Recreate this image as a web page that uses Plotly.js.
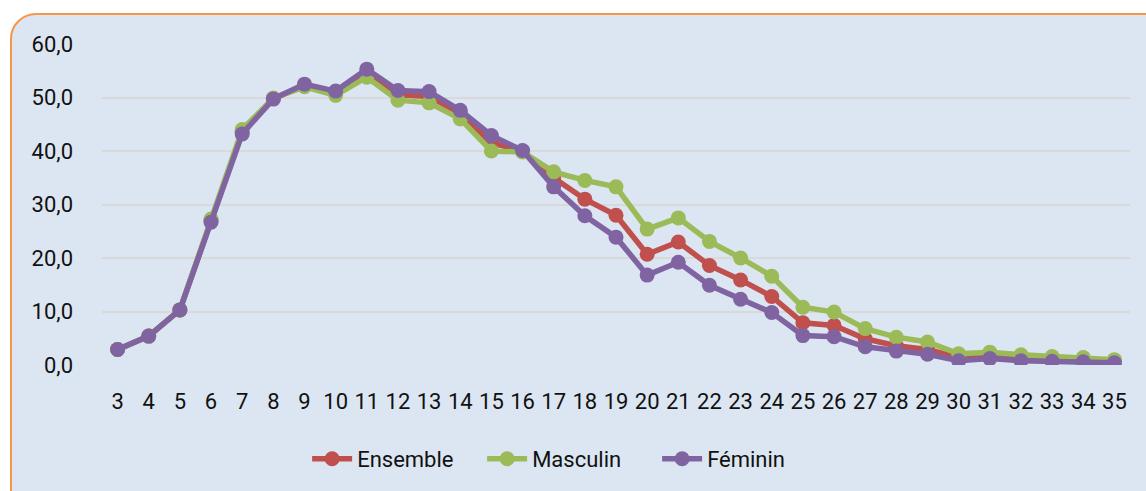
<!DOCTYPE html>
<html>
<head>
<meta charset="utf-8">
<script src="https://cdn.plot.ly/plotly-3.0.1.min.js"></script>
<style>
  html, body { margin: 0; padding: 0; background: #ffffff; overflow: hidden; }
  #frame {
    position: absolute; left: 10px; top: 13px; width: 1170px; height: 520px;
    border: 2px solid #f79646; border-radius: 26px; background: #dce6f2; box-sizing: border-box;
  }
  #chart { position: absolute; left: 0; top: 0; width: 1146px; height: 491px; }
</style>
</head>
<body>
<div id="frame"></div>
<div id="chart"></div>
<script>
const ages = ['3','4','5','6','7','8','9','10','11','12','13','14','15','16','17','18','19','20','21','22','23','24','25','26','27','28','29','30','31','32','33','34','35'];
const ensemble = [2.9, 5.4, 10.3, 27.0, 43.6, 49.8, 52.3, 51.0, 54.5, 50.5, 50.2, 47.0, 41.5, 40.0, 35.0, 31.0, 28.0, 20.7, 23.0, 18.6, 15.9, 12.8, 7.9, 7.4, 4.9, 3.6, 2.9, 1.4, 1.7, 1.3, 1.1, 1.0, 0.7];
const masculin = [2.9, 5.4, 10.3, 27.3, 44.0, 49.9, 52.0, 50.4, 53.8, 49.5, 49.0, 46.0, 40.0, 39.8, 36.1, 34.5, 33.3, 25.4, 27.5, 23.1, 20.0, 16.6, 10.8, 9.9, 6.8, 5.2, 4.3, 2.1, 2.4, 1.9, 1.6, 1.4, 1.0];
const feminin = [2.9, 5.4, 10.3, 26.7, 43.2, 49.7, 52.5, 51.2, 55.3, 51.3, 51.1, 47.6, 42.9, 40.1, 33.3, 27.9, 23.9, 16.8, 19.2, 14.9, 12.3, 9.8, 5.5, 5.3, 3.4, 2.6, 2.0, 0.8, 1.2, 0.8, 0.7, 0.6, 0.4];
const seriesNames = ['Ensemble', 'Masculin', 'Féminin'];
const seriesColors = ['#c0504d', '#9bbb59', '#8064a2'];
const yTicks = [0, 10, 20, 30, 40, 50, 60];

const data = [ensemble, masculin, feminin].map((vals, i) => ({
  type: 'scatter', mode: 'lines+markers', x: ages, y: vals, name: seriesNames[i],
  line: { color: seriesColors[i], width: 5.5 },
  marker: { color: seriesColors[i], size: 15 },
  legendrank: i + 1
}));

const font = { family: 'Roboto, Arial, sans-serif', size: 22, color: '#111111' };

const layout = {
  width: 1146, height: 491,
  paper_bgcolor: 'rgba(0,0,0,0)', plot_bgcolor: 'rgba(0,0,0,0)',
  margin: { l: 102, r: 16, t: 44, b: 126, pad: 0 },
  separators: ', ',
  font: font,
  showlegend: true,
  xaxis: {
    type: 'category', range: [-0.5, ages.length - 0.5], autorange: false,
    showgrid: false, zeroline: false, showline: false,
    ticks: '', tickfont: font, ticklabelstandoff: 21, fixedrange: true
  },
  yaxis: {
    range: [0, 60], autorange: false, tickvals: yTicks, tickformat: '.1f',
    showgrid: true, gridcolor: '#d9d9d9', gridwidth: 2, zeroline: false, showline: false,
    ticks: '', tickfont: font, ticklabelstandoff: 28, fixedrange: true
  },
  legend: {
    orientation: 'h', xref: 'container', yref: 'container',
    x: 0.268, xanchor: 'left', y: 1 - 459/491, yanchor: 'middle',
    font: font, bgcolor: 'rgba(0,0,0,0)', traceorder: 'normal', itemwidth: 40,
    entrywidth: 120
  }
};

Plotly.newPlot('chart', data, layout, { displayModeBar: false, staticPlot: true });
</script>
</body>
</html>
